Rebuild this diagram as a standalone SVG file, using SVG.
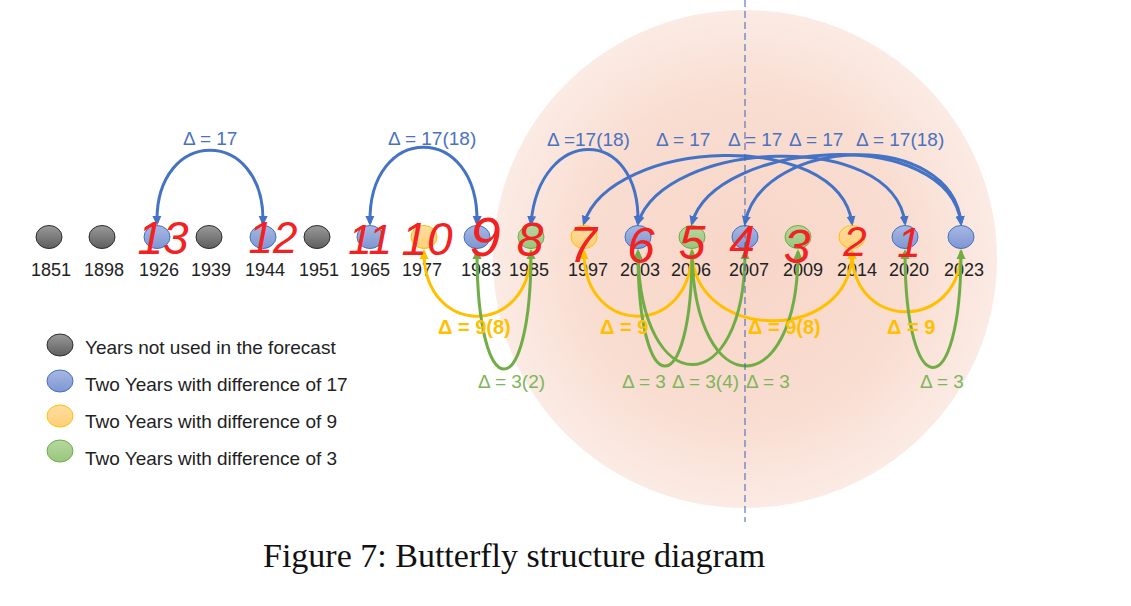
<svg xmlns="http://www.w3.org/2000/svg" width="1131" height="606" viewBox="0 0 1131 606">
<style>
.yr{font-family:"Liberation Sans",Arial,sans-serif;font-size:18px;fill:#222;text-anchor:middle}
.lg{font-family:"Liberation Sans",Arial,sans-serif;font-size:19px;fill:#222}
.lb{font-family:"Liberation Sans",Arial,sans-serif;font-size:19px;fill:#4A72C0}
.ly{font-family:"Liberation Sans",Arial,sans-serif;font-size:20px;font-weight:bold;fill:#FFC000}
.lgr{font-family:"Liberation Sans",Arial,sans-serif;font-size:19px;fill:#7DB55A}
.red{font-family:"Liberation Sans",Arial,sans-serif;font-style:italic;fill:#F22222;text-anchor:middle}
.ng{fill:url(#gg);stroke:#2E2E2E;stroke-width:1}
.nb{fill:url(#gb);stroke:#4472C4;stroke-width:1}
.ny{fill:url(#gy);stroke:#FFC000;stroke-width:1}
.ngr{fill:url(#ggr);stroke:#70AD47;stroke-width:1}
.cb{fill:none;stroke:#4472C4;stroke-width:3}
.cy{fill:none;stroke:#FFC000;stroke-width:3}
.cg{fill:none;stroke:#70AD47;stroke-width:3}
</style>
<defs>
<radialGradient id="bg" cx="0.5" cy="0.5" r="0.5">
<stop offset="0" stop-color="#F8D6C8"/>
<stop offset="0.65" stop-color="#F9DDD1"/>
<stop offset="1" stop-color="#FBEBE4"/>
</radialGradient>
<linearGradient id="gg" x1="0" y1="0" x2="0" y2="1"><stop offset="0" stop-color="#9A9A9A"/><stop offset="1" stop-color="#5E5E5E"/></linearGradient>
<linearGradient id="gb" x1="0" y1="0" x2="0" y2="1"><stop offset="0" stop-color="#A7B8E2"/><stop offset="1" stop-color="#7E96D3"/></linearGradient>
<linearGradient id="gy" x1="0" y1="0" x2="0" y2="1"><stop offset="0" stop-color="#FFDDA0"/><stop offset="1" stop-color="#FFCF78"/></linearGradient>
<linearGradient id="ggr" x1="0" y1="0" x2="0" y2="1"><stop offset="0" stop-color="#B6D8A0"/><stop offset="1" stop-color="#98C67C"/></linearGradient>
<marker id="mb" viewBox="0 0 10 10" refX="7" refY="5" markerWidth="10" markerHeight="10" markerUnits="userSpaceOnUse" orient="auto-start-reverse"><path d="M0,0.5 L10,5 L0,9.5 z" fill="#4472C4"/></marker>
<marker id="my" viewBox="0 0 10 10" refX="7" refY="5" markerWidth="10" markerHeight="10" markerUnits="userSpaceOnUse" orient="auto-start-reverse"><path d="M0,0.5 L10,5 L0,9.5 z" fill="#FFC000"/></marker>
<marker id="mg" viewBox="0 0 10 10" refX="7" refY="5" markerWidth="10" markerHeight="10" markerUnits="userSpaceOnUse" orient="auto-start-reverse"><path d="M0,0.5 L10,5 L0,9.5 z" fill="#70AD47"/></marker>
</defs>
<rect width="1131" height="606" fill="#FFFFFF"/>
<ellipse id="halo" cx="745" cy="259" rx="252" ry="249" fill="url(#bg)"/>

<g id="n1851"><ellipse class="ng" cx="49" cy="237" rx="13" ry="11.5"/><text class="yr" x="51" y="276">1851</text></g>
<g id="n1898"><ellipse class="ng" cx="102" cy="237" rx="13" ry="11.5"/><text class="yr" x="104" y="276">1898</text></g>
<g id="n1926"><ellipse class="nb" cx="157" cy="237" rx="13" ry="11.5"/><text class="yr" x="159" y="276">1926</text></g>
<g id="n1939"><ellipse class="ng" cx="209" cy="237" rx="13" ry="11.5"/><text class="yr" x="211" y="276">1939</text></g>
<g id="n1944"><ellipse class="nb" cx="263" cy="237" rx="13" ry="11.5"/><text class="yr" x="265" y="276">1944</text></g>
<g id="n1951"><ellipse class="ng" cx="317" cy="237" rx="13" ry="11.5"/><text class="yr" x="319" y="276">1951</text></g>
<g id="n1965"><ellipse class="nb" cx="370" cy="237" rx="13" ry="11.5"/><text class="yr" x="370" y="276">1965</text></g>
<g id="n1977"><ellipse class="ny" cx="424" cy="237" rx="13" ry="11.5"/><text class="yr" x="422" y="276">1977</text></g>
<g id="n1983"><ellipse class="nb" cx="477" cy="237" rx="13" ry="11.5"/><text class="yr" x="481" y="276">1983</text></g>
<g id="n1985"><ellipse class="ngr" cx="531" cy="237" rx="13" ry="11.5"/><text class="yr" x="529" y="276">1985</text></g>
<g id="n1997"><ellipse class="ny" cx="584" cy="237" rx="13" ry="11.5"/><text class="yr" x="588" y="276">1997</text></g>
<g id="n2003"><ellipse class="nb" cx="638" cy="237" rx="13" ry="11.5"/><text class="yr" x="640" y="276">2003</text></g>
<g id="n2006"><ellipse class="ngr" cx="692" cy="237" rx="13" ry="11.5"/><text class="yr" x="691" y="276">2006</text></g>
<g id="n2007"><ellipse class="nb" cx="745" cy="237" rx="13" ry="11.5"/><text class="yr" x="749" y="276">2007</text></g>
<g id="n2009"><ellipse class="ngr" cx="798" cy="237" rx="13" ry="11.5"/><text class="yr" x="803" y="276">2009</text></g>
<g id="n2014"><ellipse class="ny" cx="852" cy="237" rx="13" ry="11.5"/><text class="yr" x="857" y="276">2014</text></g>
<g id="n2020"><ellipse class="nb" cx="905" cy="237" rx="13" ry="11.5"/><text class="yr" x="909" y="276">2020</text></g>
<g id="n2023"><ellipse class="nb" cx="961" cy="237" rx="13" ry="11.5"/><text class="yr" x="964" y="276">2023</text></g>

<g id="connectors">
<path class="cb" marker-start="url(#mb)" marker-end="url(#mb)" d="M157,223 C155,126 265,126 263,223"/>
<path class="cb" marker-start="url(#mb)" marker-end="url(#mb)" d="M370,223 C368,122 479,122 477,223"/>
<path class="cb" marker-start="url(#mb)" marker-end="url(#mb)" d="M531,223 C540,125 640,125 638,223"/>
<path class="cb" marker-start="url(#mb)" marker-end="url(#mb)" d="M584,223 C612,138 838,128 852,223"/>
<path class="cb" marker-start="url(#mb)" marker-end="url(#mb)" d="M638,223 C665,140 893,128 905,223"/>
<path class="cb" marker-start="url(#mb)" marker-end="url(#mb)" d="M692,223 C715,140 948,124 961,223"/>
<path class="cb" marker-start="url(#mb)" marker-end="url(#mb)" d="M745,223 C762,136 952,128 961,223"/>

<path class="cy" marker-start="url(#my)" d="M424,252 C424,338 531,338 531,250"/>
<path class="cy" marker-start="url(#my)" d="M584,252 C584,338 692,338 692,250"/>
<path class="cy" marker-start="url(#my)" d="M852,252 C852,344 692,344 692,250"/>
<path class="cy" marker-start="url(#my)" d="M852,252 C852,332 961,332 961,250"/>

<path class="cg" marker-start="url(#mg)" marker-end="url(#mg)" d="M477,252 C477,408 531,408 531,252"/>
<path class="cg" marker-start="url(#mg)" marker-end="url(#mg)" d="M638,252 C638,404 692,404 692,252"/>
<path class="cg" marker-start="url(#mg)" marker-end="url(#mg)" d="M638,252 C640,402 745,402 745,252"/>
<path class="cg" marker-start="url(#mg)" marker-end="url(#mg)" d="M692,252 C694,404 798,404 798,252"/>
<path class="cg" marker-start="url(#mg)" marker-end="url(#mg)" d="M905,252 C905,406 961,406 961,252"/>
</g>

<g id="labels">
<text class="lb" x="183" y="145">Δ = 17</text>
<text class="lb" x="388" y="145">Δ = 17(18)</text>
<text class="lb" x="547" y="146">Δ =17(18)</text>
<text class="lb" x="656" y="146">Δ = 17</text>
<text class="lb" x="728" y="146">Δ = 17</text>
<text class="lb" x="789" y="146">Δ = 17</text>
<text class="lb" x="856" y="146">Δ = 17(18)</text>
<text class="ly" x="438" y="334">Δ = 9(8)</text>
<text class="ly" x="600" y="334">Δ = 9</text>
<text class="ly" x="748" y="334">Δ = 9(8)</text>
<text class="ly" x="887" y="334">Δ = 9</text>
<text class="lgr" x="478" y="388">Δ = 3(2)</text>
<text class="lgr" x="622" y="388">Δ = 3</text>
<text class="lgr" x="672" y="388">Δ = 3(4)</text>
<text class="lgr" x="746" y="388">Δ = 3</text>
<text class="lgr" x="920" y="388">Δ = 3</text>
</g>

<line id="axis" x1="745" y1="0" x2="745" y2="522" stroke="#3A62B0" stroke-width="1" stroke-dasharray="7,4"/>

<g id="legend">
<g id="lg1"><ellipse class="ng" cx="60" cy="345" rx="13" ry="11"/><text class="lg" x="85" y="354">Years not used in the forecast</text></g>
<g id="lg2"><ellipse class="nb" cx="60" cy="381" rx="13" ry="11"/><text class="lg" x="85" y="391">Two Years with difference of 17</text></g>
<g id="lg3"><ellipse class="ny" cx="60" cy="416" rx="13" ry="11"/><text class="lg" x="85" y="428">Two Years with difference of 9</text></g>
<g id="lg4"><ellipse class="ngr" cx="60" cy="451" rx="13" ry="11"/><text class="lg" x="85" y="465">Two Years with difference of 3</text></g>
</g>

<g id="annotations">
<text class="red" x="163" y="254" font-size="46">13</text>
<text class="red" x="273" y="253" font-size="44">12</text>
<text class="red" x="370" y="254" font-size="42">11</text>
<text class="red" x="427" y="255" font-size="46">10</text>
<text class="red" x="485" y="256" font-size="56">9</text>
<text class="red" x="530" y="256" font-size="48">8</text>
<text class="red" x="583" y="262" font-size="50">7</text>
<text class="red" x="641" y="263" font-size="50">6</text>
<text class="red" x="692" y="259" font-size="48">5</text>
<text class="red" x="742" y="258" font-size="46">4</text>
<text class="red" x="797" y="263" font-size="48">3</text>
<text class="red" x="855" y="256" font-size="42">2</text>
<text class="red" x="909" y="257" font-size="42">1</text>
</g>

<text id="caption" x="263" y="567" font-family="'Liberation Serif','Times New Roman',serif" font-size="34" fill="#111">Figure 7: Butterfly structure diagram</text>
</svg>
